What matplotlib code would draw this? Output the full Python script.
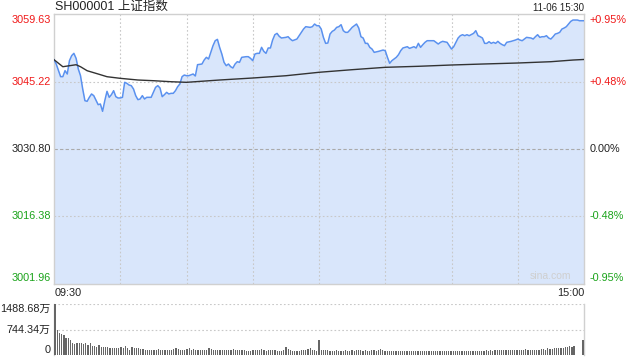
import matplotlib
matplotlib.use("Agg")
import matplotlib.pyplot as plt
from matplotlib.transforms import blended_transform_factory as btf

plt.rcParams['font.family'] = ['Liberation Sans', 'Noto Sans CJK SC', 'DejaVu Sans']

title = "SH000001 上证指数"
date_label = "11-06 15:30"
prev_close = 3030.80
left_labels = ["3059.63", "3045.22", "3030.80", "3016.38", "3001.96"]
left_values = [3059.63, 3045.22, 3030.80, 3016.38, 3001.96]
right_labels = ["+0.95%", "+0.48%", "0.00%", "-0.48%", "-0.95%"]
time_labels = ["09:30", "15:00"]
vol_labels = ["1488.68万", "744.34万", "0"]
vol_label_values = [1488.68, 744.34, 0]

price_minutes = [0, 1, 3, 4, 5, 6, 7, 8, 9, 10, 11, 12, 13, 14, 15, 16, 17, 18, 20, 21, 22, 23, 24, 25,
                 26, 27, 28, 29, 30, 31, 32, 33, 34, 35, 36, 37, 38, 39, 40, 41, 42, 44, 45, 46, 47, 48,
                 49, 50, 51, 52, 53, 54, 55, 56, 57, 58, 59, 60, 61, 63, 64, 65, 67, 68, 69, 70, 71, 72,
                 73, 74, 75, 76, 77, 78, 79, 80, 81, 82, 83, 84, 85, 87, 88, 89, 90, 91, 92, 93, 94, 95,
                 96, 97, 98, 99, 100, 101, 102, 103, 105, 106, 107, 108, 110, 111, 112, 113, 114, 116,
                 117, 118, 119, 120, 121, 122, 123, 124, 125, 126, 127, 128, 129, 130, 131, 132, 133,
                 134, 135, 136, 137, 138, 139, 140, 141, 142, 143, 144, 145, 147, 148, 149, 150, 151,
                 152, 153, 154, 155, 156, 157, 158, 159, 160, 161, 163, 164, 165, 166, 167, 168, 169,
                 170, 172, 173, 174, 175, 176, 178, 179, 180, 181, 182, 183, 184, 185, 186, 187, 188,
                 190, 191, 192, 193, 194, 195, 196, 197, 198, 199, 200, 201, 202, 203, 204, 205, 207,
                 208, 209, 210, 211, 212, 213, 214, 216, 217, 218, 219, 220, 221, 222, 223, 224, 225,
                 226, 227, 228, 229, 230, 231, 232, 233, 234, 235, 237, 238, 240]
price_values = [3050.02, 3049.09, 3046.37, 3046.37, 3047.66, 3046.94, 3049.81, 3050.89, 3051.39, 3050.31,
                3048.02, 3046.58, 3043.71, 3041.20, 3041.06, 3041.92, 3042.64, 3042.28, 3040.34, 3040.48,
                3038.91, 3041.20, 3043.21, 3041.92, 3042.49, 3043.35, 3042.06, 3041.78, 3041.78, 3041.92,
                3045.15, 3044.93, 3044.57, 3044.43, 3043.71, 3042.28, 3041.42, 3041.56, 3042.28, 3041.56,
                3041.92, 3041.92, 3042.99, 3044.07, 3044.43, 3043.93, 3042.06, 3042.49, 3042.99, 3042.64,
                3042.78, 3042.78, 3043.35, 3044.21, 3044.79, 3046.37, 3046.72, 3046.58, 3046.58, 3046.94,
                3046.51, 3048.95, 3049.09, 3049.95, 3050.53, 3050.17, 3051.60, 3053.04, 3054.11, 3054.40,
                3052.68, 3051.24, 3049.45, 3048.73, 3049.09, 3048.52, 3048.23, 3049.09, 3049.59, 3049.45,
                3050.53, 3050.67, 3050.67, 3050.31, 3049.81, 3051.24, 3051.39, 3051.39, 3052.68, 3051.82,
                3051.39, 3052.54, 3052.54, 3054.26, 3055.40, 3055.69, 3055.05, 3054.69, 3054.83, 3054.97,
                3054.47, 3054.11, 3054.47, 3055.19, 3055.91, 3056.62, 3057.13, 3056.98, 3057.13, 3057.70,
                3057.34, 3057.34, 3056.62, 3054.83, 3053.54, 3053.61, 3055.55, 3056.12, 3056.41, 3056.98,
                3057.13, 3057.56, 3056.27, 3055.91, 3055.91, 3056.41, 3056.98, 3057.34, 3057.70, 3056.84,
                3054.97, 3054.69, 3053.54, 3053.54, 3052.68, 3052.32, 3051.60, 3051.82, 3051.96, 3052.10,
                3051.96, 3050.53, 3049.24, 3049.81, 3050.17, 3050.53, 3051.10, 3051.96, 3052.54, 3052.68,
                3052.82, 3052.46, 3052.82, 3052.54, 3053.54, 3052.68, 3053.25, 3053.76, 3054.11, 3054.11,
                3054.11, 3053.76, 3053.40, 3053.76, 3053.97, 3053.76, 3053.04, 3052.32, 3052.82, 3053.76,
                3054.69, 3055.19, 3055.40, 3055.19, 3055.40, 3055.19, 3055.69, 3056.27, 3055.19, 3054.97,
                3054.69, 3053.54, 3053.54, 3053.90, 3053.54, 3053.76, 3053.54, 3053.97, 3053.54, 3053.25,
                3053.04, 3053.76, 3053.97, 3054.11, 3054.26, 3054.47, 3054.26, 3054.11, 3054.47, 3054.83,
                3054.69, 3054.47, 3054.97, 3055.40, 3054.83, 3054.97, 3054.97, 3055.19, 3054.69, 3054.47,
                3054.97, 3055.55, 3055.69, 3055.91, 3056.62, 3056.84, 3057.13, 3057.70, 3058.27, 3058.56,
                3058.56, 3058.41, 3058.41]

avg_minutes = [0, 4, 10, 12, 15, 20, 24, 30, 38, 45, 53, 60, 75, 90, 105, 120, 135, 150, 165, 180,
               194, 210, 225, 235, 240]
avg_values = [3050.02, 3048.51, 3048.94, 3048.51, 3047.65, 3046.94, 3046.36, 3046.01, 3045.65, 3045.50,
              3045.28, 3045.15, 3045.65, 3046.08, 3046.57, 3047.31, 3047.87, 3048.38, 3048.60, 3048.88,
              3049.09, 3049.31, 3049.59, 3049.95, 3050.07]

volumes = [1488.68, 730, 634, 613, 584, 505, 505, 438, 342, 320,
           360, 360, 342, 320, 342, 292, 360, 263, 263, 243,
           292, 224, 243, 243, 224, 195, 205, 190, 190, 190,
           224, 195, 263, 190, 146, 243, 215, 195, 195, 175,
           175, 160, 160, 160, 160, 160, 146, 175, 160, 146,
           146, 160, 146, 146, 175, 195, 175, 160, 146, 160,
           175, 190, 160, 175, 160, 146, 146, 160, 160, 160,
           190, 175, 160, 160, 146, 146, 146, 146, 160, 146,
           160, 175, 146, 146, 160, 146, 146, 131, 131, 131,
           160, 146, 146, 160, 175, 146, 131, 146, 160, 146,
           146, 131, 131, 131, 146, 225, 175, 146, 131, 131,
           131, 131, 146, 160, 146, 175, 190, 160, 146, 131,
           438, 146, 146, 146, 146, 131, 131, 131, 146, 131,
           131, 131, 146, 131, 131, 146, 131, 146, 146, 160,
           131, 146, 131, 131, 160, 146, 131, 146, 175, 146,
           131, 131, 117, 117, 117, 117, 131, 117, 117, 117,
           117, 117, 117, 131, 131, 117, 117, 131, 117, 117,
           117, 117, 117, 131, 117, 117, 117, 117, 117, 117,
           117, 117, 117, 117, 117, 131, 117, 117, 117, 131,
           117, 131, 117, 131, 131, 131, 146, 131, 146, 131,
           146, 146, 146, 160, 146, 146, 146, 160, 160, 160,
           160, 146, 160, 160, 175, 160, 160, 146, 160, 160,
           160, 175, 175, 160, 190, 175, 175, 190, 190, 205,
           195, 205, 224, 243, 263, 243, 263, 10, 0, 0,
           438]

W, H = 640, 360
fig = plt.figure(figsize=(6.4, 3.6), dpi=100)
fig.patch.set_facecolor('white')

def rect(x0, y0, x1, y1):
    return [x0 / W, 1 - y1 / H, (x1 - x0) / W, (y1 - y0) / H]

ax = fig.add_axes(rect(54, 14, 584, 284))
axv = fig.add_axes(rect(54, 304, 584, 355))

span = left_values[0] - prev_close
pad = span * 0.008
ax.set_ylim(left_values[-1] - pad, left_values[0] + pad)
ax.set_xlim(0, 240)

red = '#f01818'
green = '#1aa31a'
line_col = '#5a91ef'
fill_col = '#d9e6fb'
grid_col = '#c8c8c8'

ax.fill_between(price_minutes, price_values, left_values[-1] - pad, color=fill_col, lw=0, zorder=1)
ax.plot(price_minutes, price_values, color=line_col, lw=1.1, zorder=3)
ax.plot(avg_minutes, avg_values, color='#333333', lw=1.0, zorder=4)

for v in [left_values[1], left_values[3]]:
    ax.axhline(v, color=grid_col, lw=0.8, ls=(0, (1.5, 2)), zorder=2)
ax.axhline(prev_close, color='#aaaaaa', lw=0.8, ls=(0, (3, 2)), zorder=2)
for m in range(30, 240, 30):
    ax.axvline(m, color=grid_col, lw=0.8, ls=(0, (1.5, 2)), zorder=2)

for sp in ax.spines.values():
    sp.set_color('#d0d0d0')
    sp.set_linewidth(1)
ax.set_xticks([])
ax.set_yticks([])

tr_l = btf(ax.transAxes, ax.transData)
fs = 7.8
for i, (lab, v) in enumerate(zip(left_labels, left_values)):
    col = red if v > prev_close else (green if v < prev_close else '#222222')
    va = 'top' if i == 0 else ('bottom' if i == len(left_values) - 1 else 'center')
    ax.text(-0.006, v, lab, transform=tr_l, ha='right', va=va, color=col, fontsize=fs)
    ax.text(1.01, v, right_labels[i], transform=tr_l, ha='left', va=va, color=col, fontsize=fs)

fig.text(55 / W, 1 - 7 / H, title, ha='left', va='center', fontsize=9, color='#222222')
fig.text(584 / W, 1 - 8 / H, date_label, ha='right', va='center', fontsize=7, color='#222222')
ax.text(0.002, -0.015, time_labels[0], transform=ax.transAxes, ha='left', va='top', fontsize=fs, color='#222222')
ax.text(1.0, -0.015, time_labels[1], transform=ax.transAxes, ha='right', va='top', fontsize=fs, color='#222222')
ax.text(0.975, 0.01, "sina.com", transform=ax.transAxes, ha='right', va='bottom', fontsize=7.5, color='#cfcfcf')

# volume
axv.bar(range(len(volumes)), volumes, width=0.55, color='#666666', zorder=3)
axv.set_xlim(-0.5, 240.5)
axv.set_ylim(0, vol_label_values[0])
for v in vol_label_values[:2]:
    axv.axhline(v, color=grid_col, lw=0.8, ls=(0, (1.5, 2)), zorder=1)
for k, sp in axv.spines.items():
    sp.set_color('#d0d0d0')
    sp.set_linewidth(1)
axv.spines['top'].set_visible(False)
axv.spines['bottom'].set_visible(False)
axv.set_xticks([])
axv.set_yticks([])
tr_v = btf(axv.transAxes, axv.transData)
for i, (lab, v) in enumerate(zip(vol_labels, vol_label_values)):
    va = 'top' if i == 0 else ('bottom' if i == len(vol_labels) - 1 else 'center')
    axv.text(-0.006, v, lab, transform=tr_v, ha='right', va=va, color='#222222', fontsize=fs)

fig.savefig('out.png', dpi=100, facecolor='white')
